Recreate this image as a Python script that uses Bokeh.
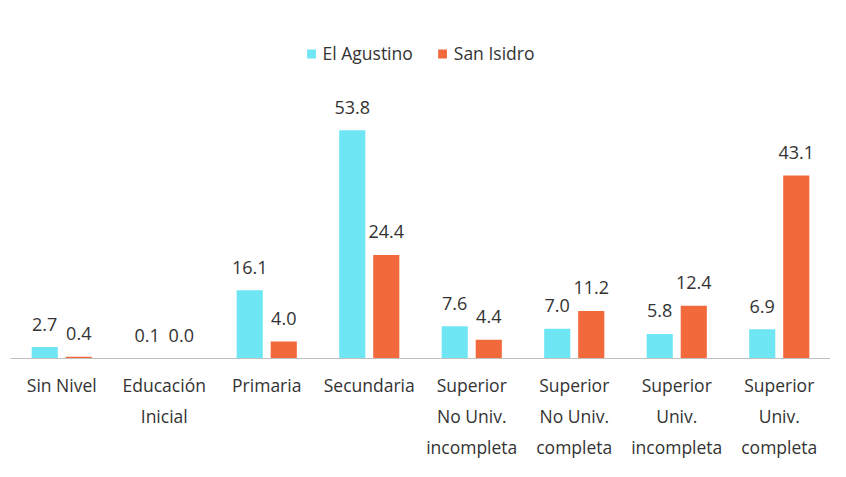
from bokeh.plotting import figure
from bokeh.models import ColumnDataSource, FixedTicker, Legend, LegendItem
from bokeh.core.properties import value
from bokeh.embed import file_html
from bokeh.resources import INLINE

categories = ["Sin Nivel", "Educación\nInicial", "Primaria", "Secundaria",
              "Superior\nNo Univ.\nincompleta", "Superior\nNo Univ.\ncompleta",
              "Superior\nUniv.\nincompleta", "Superior\nUniv.\ncompleta"]
el_agustino = [2.7, 0.1, 16.1, 53.8, 7.6, 7.0, 5.8, 6.9]
san_isidro = [0.4, 0.0, 4.0, 24.4, 4.4, 11.2, 12.4, 43.1]
series_names = ["El Agustino", "San Isidro"]

CYAN = "#6FE6F4"
ORANGE = "#F26A3B"
FONT = "Open Sans"
OFF = 0.166
BW = 0.255

idx = list(range(len(categories)))
src_a = ColumnDataSource(dict(x=[i - OFF for i in idx], top=el_agustino,
                              lab=[f"{v:.1f}" for v in el_agustino]))
src_s = ColumnDataSource(dict(x=[i + OFF for i in idx], top=san_isidro,
                              lab=[f"{v:.1f}" for v in san_isidro]))

p = figure(width=830, height=461, output_backend="svg", toolbar_location=None,
           x_range=(-0.5, 7.5), y_range=(0, 79.4),
           min_border_left=10, min_border_right=0, min_border_top=21, min_border_bottom=100)
p.outline_line_color = None
p.grid.visible = False
p.yaxis.visible = False

ra = p.vbar(x="x", top="top", width=BW, source=src_a, fill_color=CYAN, line_color=None)
rs = p.vbar(x="x", top="top", width=BW, source=src_s, fill_color=ORANGE, line_color=None)

for src in (src_a, src_s):
    p.text(x="x", y="top", text="lab", source=src, text_align="center",
           text_baseline="middle", y_offset=-23, text_font=value(FONT),
           text_font_size="18px", text_color="#333333")

xa = p.xaxis[0]
xa.ticker = FixedTicker(ticks=idx)
xa.major_label_overrides = {i: c for i, c in enumerate(categories)}
xa.major_tick_line_color = None
xa.minor_tick_line_color = None
xa.major_tick_out = 0
xa.minor_tick_out = 0
xa.major_tick_in = 0
xa.axis_label_standoff = 0
xa.axis_line_color = "#BFBFBF"
xa.axis_line_width = 1
xa.major_label_standoff = 14
xa.major_label_text_font = FONT
xa.major_label_text_font_size = "17.5px"
xa.major_label_text_color = "#333333"
xa.major_label_text_line_height = 1.3

legend = Legend(items=[LegendItem(label=series_names[0], renderers=[ra]),
                       LegendItem(label=series_names[1], renderers=[rs])],
                orientation="horizontal", location="top_center")
legend.border_line_color = None
legend.background_fill_alpha = 0
legend.label_text_font = FONT
legend.label_text_font_size = "17.5px"
legend.label_text_color = "#333333"
legend.glyph_width = 11
legend.glyph_height = 11
legend.label_standoff = 6
legend.spacing = 24
legend.margin = 20
legend.padding = 0
p.add_layout(legend)

open("out.html", "w").write(file_html(p, INLINE))
